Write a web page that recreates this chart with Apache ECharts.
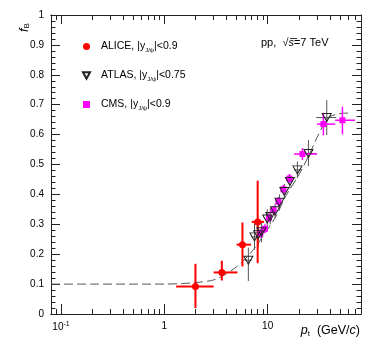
<!DOCTYPE html>
<html><head><meta charset="utf-8">
<script src="https://cdn.jsdelivr.net/npm/echarts@6/dist/echarts.min.js"></script>
<style>html,body{margin:0;padding:0;background:#fff}#c{width:387px;height:354px}</style>
</head><body><div id="c"></div>
<script>
// ---- data ----
const aliceX   = [2.0, 3.6, 5.7, 8.0];
const aliceXLo = [1.3, 3.0, 5.0, 7.0];
const aliceXHi = [3.0, 5.1, 6.9, 9.2];
const aliceY   = [0.092, 0.139, 0.232, 0.308];
const aliceYLo = [0.020, 0.112, 0.159, 0.170];
const aliceYHi = [0.168, 0.178, 0.306, 0.446];

const atlasX   = [6.5, 7.45, 8.1, 8.7, 9.9, 10.6, 11.8, 13.0, 14.5, 16.4, 19.4, 24.8, 37.3];
const atlasXLo = [6.0, 7.0, 7.8, 8.4, 9.5, 10.25, 11.0, 12.4, 13.8, 15.5, 18.0, 21.3, 29.5];
const atlasXHi = [7.0, 7.8, 8.4, 9.0, 10.25, 11.0, 12.4, 13.8, 15.2, 17.5, 21.0, 29.7, 46.0];
const atlasY   = [0.180, 0.258, 0.265, 0.275, 0.318, 0.326, 0.345, 0.374, 0.410, 0.443, 0.482, 0.537, 0.657];
const atlasYLo = [0.110, 0.215, 0.225, 0.240, 0.290, 0.300, 0.320, 0.350, 0.385, 0.420, 0.455, 0.495, 0.598];
const atlasYHi = [0.222, 0.305, 0.305, 0.312, 0.350, 0.355, 0.370, 0.400, 0.435, 0.468, 0.510, 0.582, 0.715];

const cmsX   = [8.5, 9.4, 10.3, 11.4, 12.7, 14.2, 16.2, 21.7, 34.6, 52.9];
const cmsXLo = [8.0, 9.0, 10.0, 11.0, 12.0, 13.5, 15.0, 18.0, 30.0, 45.0];
const cmsXHi = [9.0, 10.0, 11.0, 12.0, 13.5, 15.0, 18.0, 30.0, 45.0, 70.0];
const cmsY   = [0.270, 0.285, 0.322, 0.347, 0.376, 0.417, 0.453, 0.535, 0.635, 0.648];
const cmsYLo = [0.255, 0.270, 0.307, 0.332, 0.361, 0.402, 0.438, 0.515, 0.598, 0.601];
const cmsYHi = [0.285, 0.300, 0.337, 0.362, 0.391, 0.432, 0.468, 0.555, 0.673, 0.693];

const curveX = [0.08, 0.2, 0.5, 1, 1.5, 2, 3, 4, 5, 6, 7, 8, 10, 12, 15, 20, 25, 30, 35, 40, 50, 60];
const curveY = [0.100, 0.100, 0.100, 0.100, 0.102, 0.105, 0.114, 0.135, 0.158, 0.183, 0.208, 0.234, 0.284, 0.326, 0.395, 0.465, 0.530, 0.590, 0.635, 0.660, 0.670, 0.672];

const xMajorTicks = [0.1, 1, 10];
const xMinorTicks = [0.09, 0.2, 0.3, 0.4, 0.5, 0.6, 0.7, 0.8, 0.9, 2, 3, 4, 5, 6, 7, 8, 9, 20, 30, 40, 50, 60, 70];

const FONT = '"Liberation Sans", Arial, Helvetica, sans-serif';

function errSeries(name, color, width, xs, xlo, xhi, ys, ylo, yhi) {
  return {
    type: 'custom', name: name + ' err', silent: true, z: 3,
    xAxisIndex: 0, yAxisIndex: 0,
    data: xs.map((x, i) => [x, ys[i], xlo[i], xhi[i], ylo[i], yhi[i]]),
    encode: { x: [0, 2, 3], y: [1, 4, 5] },
    renderItem(params, api) {
      const l = api.coord([api.value(2), api.value(1)]);
      const r = api.coord([api.value(3), api.value(1)]);
      const b = api.coord([api.value(0), api.value(4)]);
      const t = api.coord([api.value(0), api.value(5)]);
      const style = { stroke: color, lineWidth: width };
      return { type: 'group', children: [
        { type: 'line', shape: { x1: l[0], y1: l[1], x2: r[0], y2: r[1] }, style },
        { type: 'line', shape: { x1: b[0], y1: b[1], x2: t[0], y2: t[1] }, style }
      ]};
    }
  };
}

const tri = 'path://M0,0L10,0L5,9Z';
function xAx(pos, ticks, len, labels) {
  return {
    type: 'log', logBase: 10, min: 0.08, max: 80, position: pos,
    axisLine: { show: true, onZero: false, lineStyle: { color: '#222', width: 1 } },
    axisTick: { show: true, inside: true, length: len, customValues: ticks, lineStyle: { color: '#222' } },
    axisLabel: labels ? {
      show: true, customValues: xMajorTicks, margin: 7, color: '#000', fontFamily: FONT, fontSize: 10,
      formatter: v => (Math.abs(v - 0.1) < 1e-9 ? '{b|10}{s|-1}' : String(Math.round(v))),
      rich: { b: { fontFamily: FONT, fontSize: 10, color: '#000' },
              s: { fontFamily: FONT, fontSize: 7, color: '#000', verticalAlign: 'top', padding: [0, 0, 5, 0] } }
    } : { show: false },
    splitLine: { show: false }, minorTick: { show: false }
  };
}
function yAx(pos, labels) {
  return {
    type: 'value', min: 0, max: 1, interval: 0.1, position: pos,
    axisLine: { show: true, onZero: false, lineStyle: { color: '#222', width: 1 } },
    axisTick: { show: true, inside: true, length: 9, lineStyle: { color: '#222' } },
    minorTick: { show: true, splitNumber: 5, length: 4.5, lineStyle: { color: '#222' } },
    axisLabel: labels ? { show: true, margin: 7, color: '#000', fontFamily: FONT, fontSize: 10 } : { show: false },
    splitLine: { show: false }
  };
}

const chart = echarts.init(document.getElementById('c'), null, { renderer: 'canvas' });
chart.setOption({
  animation: false,
  backgroundColor: '#fff',
  grid: { left: 51, right: 26, top: 15, bottom: 40, containLabel: false },
  xAxis: [xAx('bottom', xMajorTicks, 10, true), xAx('bottom', xMinorTicks, 5, false),
          xAx('top', xMajorTicks, 9, false), xAx('top', xMinorTicks, 5, false)],
  yAxis: [yAx('left', true), yAx('right', false)],
  legend: {
    orient: 'vertical', left: 77, top: 36, itemWidth: 7, itemHeight: 7, itemGap: 17,
    data: [{ name: 'ALICE', icon: 'circle' }, { name: 'ATLAS', icon: tri }, { name: 'CMS', icon: 'rect' }],
    formatter: n => ({ ALICE: 'ALICE, |y{s|J/ψ}|<0.9', ATLAS: 'ATLAS, |y{s|J/ψ}|<0.75', CMS: 'CMS, |y{s|J/ψ}|<0.9' })[n],
    textStyle: {
      fontFamily: FONT, fontSize: 10.5, color: '#000', padding: [0, 0, 0, 6],
      rich: { s: { fontFamily: FONT, fontSize: 6, color: '#000', verticalAlign: 'bottom', padding: [7, 0, 0, 0] } }
    }
  },
  graphic: [
    { type: 'text', left: 261, top: 37, style: {
      rich: { t: { fontFamily: FONT, fontSize: 11, fill: '#000' }, i: { fontFamily: FONT, fontSize: 11, fontStyle: 'italic', fill: '#000' } },
      text: '{t|pp,  √}{i|s}{t|=7 TeV}' } },
    { type: 'line', shape: { x1: 290, y1: 38.5, x2: 297, y2: 38.5 }, style: { stroke: '#000', lineWidth: 0.8 } },
    { type: 'text', x: 17, y: 32, rotation: Math.PI / 2, style: {
      rich: { f: { fontFamily: FONT, fontSize: 13, fontStyle: 'italic', fill: '#000' },
              b: { fontFamily: FONT, fontSize: 8, fill: '#000', verticalAlign: 'bottom', padding: [6, 0, 0, 0] } },
      text: '{f|f}{b|B}' } },
    { type: 'text', right: 27, top: 324, style: {
      rich: { p: { fontFamily: FONT, fontSize: 12.5, fontStyle: 'italic', fill: '#000' },
              s: { fontFamily: FONT, fontSize: 8, fill: '#000', verticalAlign: 'bottom', padding: [7, 0, 0, 0] },
              t: { fontFamily: FONT, fontSize: 12.5, fill: '#000' },
              c: { fontFamily: FONT, fontSize: 12.5, fontStyle: 'italic', fill: '#000' } },
      text: '{p|p}{s|t}{t|  (GeV/}{c|c}{t|)}' } }
  ],
  series: [
    { type: 'line', name: 'fit', data: curveX.map((x, i) => [x, curveY[i]]), smooth: 0.3, symbol: 'none',
      lineStyle: { color: '#555', width: 1, type: [9, 4] }, z: 1, silent: true },
    errSeries('ATLAS', '#555', 1, atlasX, atlasXLo, atlasXHi, atlasY, atlasYLo, atlasYHi),
    errSeries('CMS', '#ff00ff', 1.5, cmsX, cmsXLo, cmsXHi, cmsY, cmsYLo, cmsYHi),
    errSeries('ALICE', '#ff0000', 2, aliceX, aliceXLo, aliceXHi, aliceY, aliceYLo, aliceYHi),
    { type: 'scatter', name: 'CMS', data: cmsX.map((x, i) => [x, cmsY[i]]), symbol: 'rect', symbolSize: 6,
      itemStyle: { color: '#ff00ff', opacity: 1 }, z: 5 },
    { type: 'scatter', name: 'ATLAS', data: atlasX.map((x, i) => [x, atlasY[i]]), symbol: tri, symbolSize: [9, 8],
      itemStyle: { color: 'rgba(255,255,255,0)', borderColor: '#222', borderWidth: 1, opacity: 1 }, z: 6 },
    { type: 'scatter', name: 'ALICE', data: aliceX.map((x, i) => [x, aliceY[i]]), symbol: 'circle', symbolSize: 7,
      itemStyle: { color: '#ff0000', opacity: 1 }, z: 7 }
  ]
});
</script>
</body></html>
